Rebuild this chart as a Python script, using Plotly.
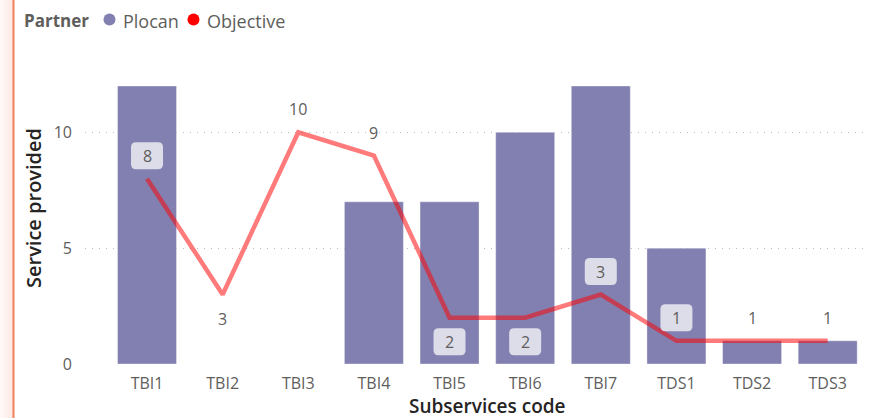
import plotly.graph_objects as go

# ---- data ----
categories = ["TBI1", "TBI2", "TBI3", "TBI4", "TBI5", "TBI6", "TBI7", "TDS1", "TDS2", "TDS3"]
plocan = [12, 0, 0, 7, 7, 10, 12, 5, 1, 1]
objective = [8, 3, 10, 9, 2, 2, 3, 1, 1, 1]
label_side = ["above", "below", "above", "above", "below", "below", "above", "above", "above", "above"]
series_names = ["Plocan", "Objective"]
legend_title = "Partner"

# ---- style ----
W, H = 869, 418
ML, MR, MT, MB = 85, 5, 86, 54
PW, PH = W - ML - MR, H - MT - MB
Y_MAX = 12
FONT = "Open Sans"
BAR_COLOR = "#8280B1"
OBJ_COLOR = "#FF0000"
LINE_COLOR = "rgba(255,0,0,0.52)"
TICK_COLOR = "#605E5C"
TITLE_COLOR = "#252423"
BOX_W, BOX_H, BOX_R = 32, 27, 5

def px_x(p):
    return (p - ML) / PW

def px_y(p):
    return (H - MB - p) / PH

fig = go.Figure()
fig.add_trace(go.Bar(
    x=categories, y=plocan, name=series_names[0],
    marker=dict(color=BAR_COLOR, line=dict(color="rgba(255,255,255,0.35)", width=1)),
    width=0.78, showlegend=False, hoverinfo="skip",
))
fig.add_trace(go.Scatter(
    x=categories, y=objective, name=series_names[1], mode="lines",
    line=dict(color=LINE_COLOR, width=4.5), showlegend=False, hoverinfo="skip",
))

annotations = []
shapes = []
units_per_px = Y_MAX / PH

def rounded_path(cy, w, h, r):
    x0, x1 = -w / 2, w / 2
    y0, y1 = cy - h / 2, cy + h / 2
    return (f"M{x0 + r},{y0} L{x1 - r},{y0} Q{x1},{y0} {x1},{y0 + r} "
            f"L{x1},{y1 - r} Q{x1},{y1} {x1 - r},{y1} L{x0 + r},{y1} "
            f"Q{x0},{y1} {x0},{y1 - r} L{x0},{y0 + r} Q{x0},{y0} {x0 + r},{y0} Z")

for i, (c, v) in enumerate(zip(categories, objective)):
    shift = 23 if label_side[i] == "above" else -24
    centre = v + shift * units_per_px
    boxed = plocan[i] > centre + (BOX_H / 2) * units_per_px and plocan[i] > 0
    if boxed:
        shapes.append(dict(type="path", xref="x", yref="y",
                           xsizemode="pixel", ysizemode="pixel",
                           xanchor=i, yanchor=v,
                           path=rounded_path(shift, BOX_W, BOX_H, BOX_R),
                           fillcolor="#DDDCE9", line=dict(width=0), layer="above"))
    annotations.append(dict(x=c, y=v, xref="x", yref="y", text=str(v), showarrow=False,
                            yshift=shift, font=dict(family=FONT, size=16, color=TICK_COLOR)))

# axis titles
annotations.append(dict(x=px_x(33), y=px_y(208), xref="paper", yref="paper",
                        text="Service provided", textangle=-90, showarrow=False,
                        xanchor="center", yanchor="middle",
                        font=dict(family=FONT, size=20, color=TITLE_COLOR, weight=600)))
annotations.append(dict(x=px_x(487.5), y=px_y(406), xref="paper", yref="paper",
                        text="Subservices code", showarrow=False,
                        xanchor="center", yanchor="middle",
                        font=dict(family=FONT, size=19, color=TITLE_COLOR, weight=600)))

# legend (title, markers, names)
LEG_Y = 21
annotations.append(dict(x=px_x(22), y=px_y(LEG_Y), xref="paper", yref="paper",
                        xanchor="left", yanchor="middle", showarrow=False,
                        text="<b>%s</b>" % legend_title,
                        font=dict(family=FONT, size=17, color=TICK_COLOR)))
for name, col, cx, tx in [(series_names[0], BAR_COLOR, 109.5, 121),
                          (series_names[1], OBJ_COLOR, 193.5, 205)]:
    shapes.append(dict(type="circle", xref="paper", yref="paper",
                       x0=px_x(cx - 6), x1=px_x(cx + 6),
                       y0=px_y(19.5 + 6), y1=px_y(19.5 - 6),
                       fillcolor=col, line=dict(width=0)))
    annotations.append(dict(x=px_x(tx), y=px_y(LEG_Y), xref="paper", yref="paper",
                            xanchor="left", yanchor="middle", showarrow=False,
                            text=name, font=dict(family=FONT, size=18, color=TICK_COLOR)))

# left border glow
for k in range(13):
    a = 0.05 + 0.012 * k
    shapes.append(dict(type="rect", xref="paper", yref="paper",
                       x0=px_x(k), x1=px_x(k + 1), y0=px_y(H), y1=px_y(0),
                       line=dict(width=0), fillcolor="rgba(244,140,110,%.3f)" % a, layer="below"))
shapes.append(dict(type="line", xref="paper", yref="paper",
                   x0=px_x(13.5), x1=px_x(13.5), y0=px_y(H), y1=px_y(0),
                   line=dict(color="#F0805C", width=2)))

fig.update_layout(
    width=W, height=H,
    margin=dict(l=ML, r=MR, t=MT, b=MB),
    paper_bgcolor="white", plot_bgcolor="white",
    font=dict(family=FONT, color=TICK_COLOR),
    bargap=0.22,
    annotations=annotations,
    shapes=shapes,
    xaxis=dict(type="category", range=[-0.82, 9.48], showgrid=False, zeroline=False,
               showline=False, ticks="", tickfont=dict(size=16, color=TICK_COLOR),
               ticklabelstandoff=8, fixedrange=True),
    yaxis=dict(range=[0, Y_MAX], tickvals=[0, 5, 10], showgrid=True,
               gridcolor="#BDBBB9", griddash="1px,6px", gridwidth=1, zeroline=False,
               showline=False, ticks="", tickfont=dict(size=16, color=TICK_COLOR),
               ticklabelstandoff=12, fixedrange=True),
)

fig.write_html("out.html", config={"displayModeBar": False},
               post_script="document.body.style.margin='0';document.body.style.overflow='hidden';")
